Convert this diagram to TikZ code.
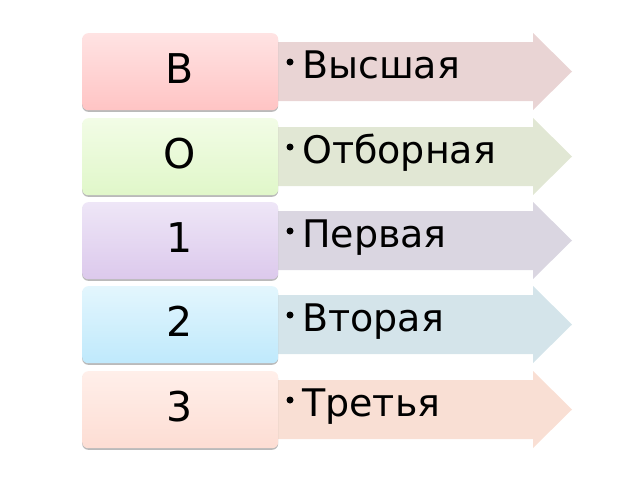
\documentclass[tikz,border=0pt]{standalone}
\usepackage{fontspec}
\setmainfont{DejaVu Sans}
\usetikzlibrary{shadows}
\definecolor{tA}{HTML}{FFE3E3}\definecolor{bA}{HTML}{FFC4C4}\definecolor{aA}{HTML}{E9D4D4}
\definecolor{tB}{HTML}{F2FCE6}\definecolor{bB}{HTML}{E0F7C9}\definecolor{aB}{HTML}{E1E7D4}
\definecolor{tC}{HTML}{EEE6F7}\definecolor{bC}{HTML}{DCC9EC}\definecolor{aC}{HTML}{DAD6E1}
\definecolor{tD}{HTML}{E3F6FD}\definecolor{bD}{HTML}{BFE9FC}\definecolor{aD}{HTML}{D4E4EA}
\definecolor{tE}{HTML}{FFEFEA}\definecolor{bE}{HTML}{FDDDD3}\definecolor{aE}{HTML}{F9DFD4}
\tikzset{
  lettbox/.style={rounded corners=6pt, minimum width=196pt, minimum height=77pt,
    anchor=north west, inner sep=0pt,
    drop shadow={shadow xshift=0pt, shadow yshift=-1.6pt, opacity=0.45, fill=black!60}},
  letter/.style={anchor=base, inner sep=0pt, font=\fontsize{41}{44}\selectfont},
  itemtext/.style={anchor=base west, inner sep=0pt, font=\fontsize{38}{42}\selectfont},
  bul/.style={circle, fill=black, inner sep=0pt, minimum size=7pt}
}
\begin{document}
\begin{tikzpicture}[x=1pt,y=-1pt]
\useasboundingbox (0,0) rectangle (640,480);
\foreach \i/\y/\L/\T/\c in {1/33/В/Высшая/A, 2/118/О/Отборная/B, 3/202/1/Первая/C, 4/286/2/Вторая/D, 5/371/3/Третья/E}{
  \fill[a\c] (270,\y+9) -- (533,\y+9) -- (533,\y) -- (572,\y+38.5) -- (533,\y+77) -- (533,\y+68) -- (270,\y+68) -- cycle;
  \node[lettbox, top color=t\c, bottom color=b\c] (box\i) at (82,\y) {};
  \node[letter] (let\i) at (180,\y+50) {\L};
  \node[bul] (bul\i) at (290,\y+29) {};
  \node[itemtext] (txt\i) at (302,\y+45) {\T};
}
\end{tikzpicture}
\end{document}
